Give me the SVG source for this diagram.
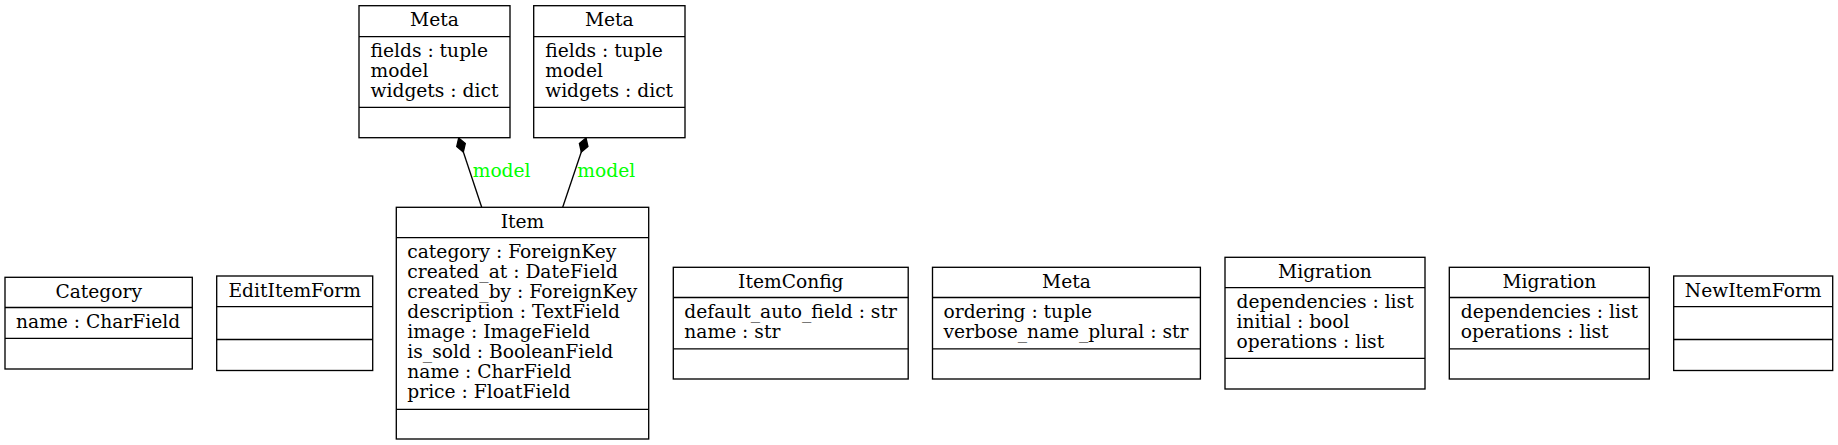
<svg xmlns="http://www.w3.org/2000/svg" width="1838" height="445" viewBox="0 0 1838 445">
<style>
  .box { fill: #ffffff; stroke: #000000; stroke-width: 1.33; }
  .sep { stroke: #000000; stroke-width: 1.33; }
  text { font-family: "DejaVu Serif", "Liberation Serif", serif; font-size: 18.67px; fill: #000000; }
  .hd { text-anchor: middle; }
  .lbl { fill: #00ff00; }
  .edge { fill: none; stroke: #000000; stroke-width: 1.33; marker-start: url(#diamond); }
</style>
<defs>
  <marker id="diamond" markerUnits="userSpaceOnUse" markerWidth="18" markerHeight="12" viewBox="-1 -6 18 12" refX="0" refY="0" orient="auto">
    <path d="M0,0 L7.35,-4.5 L14.7,0 L7.35,4.5 Z" fill="#000000" stroke="#000000" stroke-width="1.33"/>
  </marker>
</defs>
<rect width="1838" height="445" fill="#ffffff"/>

<g id="connectors">
  <path class="edge" d="M458.7,138 L481.7,207.3"/>
  <text class="lbl" x="472.7" y="177.3">model</text>
  <path class="edge" d="M586,138 L562.7,207.3"/>
  <text class="lbl" x="577.3" y="177.3">model</text>
</g>

<g id="meta_form1">
  <rect class="box" x="359" y="5.7" width="151" height="132"/>
  <line class="sep" x1="359" y1="36.7" x2="510" y2="36.7"/>
  <line class="sep" x1="359" y1="107.3" x2="510" y2="107.3"/>
  <text class="hd" x="434.5" y="26.4">Meta</text>
  <text x="370.5" y="57.4">fields : tuple</text>
  <text x="370.5" y="77.4">model</text>
  <text x="370.5" y="97.4">widgets : dict</text>
</g>

<g id="meta_form2">
  <rect class="box" x="533.7" y="5.7" width="151.3" height="132"/>
  <line class="sep" x1="533.7" y1="36.7" x2="685" y2="36.7"/>
  <line class="sep" x1="533.7" y1="107.3" x2="685" y2="107.3"/>
  <text class="hd" x="609.3" y="26.4">Meta</text>
  <text x="545.2" y="57.4">fields : tuple</text>
  <text x="545.2" y="77.4">model</text>
  <text x="545.2" y="97.4">widgets : dict</text>
</g>

<g id="item">
  <rect class="box" x="396.3" y="207.3" width="252.4" height="231.7"/>
  <line class="sep" x1="396.3" y1="237.7" x2="648.7" y2="237.7"/>
  <line class="sep" x1="396.3" y1="409.3" x2="648.7" y2="409.3"/>
  <text class="hd" x="522.5" y="228">Item</text>
  <text x="407.3" y="258.4">category : ForeignKey</text>
  <text x="407.3" y="278.4">created_at : DateField</text>
  <text x="407.3" y="298.4">created_by : ForeignKey</text>
  <text x="407.3" y="318.4">description : TextField</text>
  <text x="407.3" y="338.4">image : ImageField</text>
  <text x="407.3" y="358.4">is_sold : BooleanField</text>
  <text x="407.3" y="378.4">name : CharField</text>
  <text x="407.3" y="398.4">price : FloatField</text>
</g>

<g id="category">
  <rect class="box" x="5" y="277.3" width="187.3" height="91.7"/>
  <line class="sep" x1="5" y1="307.5" x2="192.3" y2="307.5"/>
  <line class="sep" x1="5" y1="338.3" x2="192.3" y2="338.3"/>
  <text class="hd" x="98.7" y="298">Category</text>
  <text x="16" y="328.2">name : CharField</text>
</g>

<g id="edit_item_form">
  <rect class="box" x="216.7" y="276" width="156" height="94.5"/>
  <line class="sep" x1="216.7" y1="306.7" x2="372.7" y2="306.7"/>
  <line class="sep" x1="216.7" y1="339.5" x2="372.7" y2="339.5"/>
  <text class="hd" x="294.7" y="296.7">EditItemForm</text>
</g>

<g id="item_config">
  <rect class="box" x="673.3" y="267.3" width="234.9" height="111.7"/>
  <line class="sep" x1="673.3" y1="297.5" x2="908.2" y2="297.5"/>
  <line class="sep" x1="673.3" y1="348.8" x2="908.2" y2="348.8"/>
  <text class="hd" x="790.8" y="288">ItemConfig</text>
  <text x="684.3" y="318.2">default_auto_field : str</text>
  <text x="684.3" y="338.2">name : str</text>
</g>

<g id="meta_category">
  <rect class="box" x="932.5" y="267.3" width="267.9" height="111.7"/>
  <line class="sep" x1="932.5" y1="297.5" x2="1200.4" y2="297.5"/>
  <line class="sep" x1="932.5" y1="348.8" x2="1200.4" y2="348.8"/>
  <text class="hd" x="1066.5" y="288">Meta</text>
  <text x="943.5" y="318.2">ordering : tuple</text>
  <text x="943.5" y="338.2">verbose_name_plural : str</text>
</g>

<g id="migration1">
  <rect class="box" x="1225" y="257.3" width="200" height="131.7"/>
  <line class="sep" x1="1225" y1="287.7" x2="1425" y2="287.7"/>
  <line class="sep" x1="1225" y1="358.3" x2="1425" y2="358.3"/>
  <text class="hd" x="1325" y="278">Migration</text>
  <text x="1236.5" y="308.4">dependencies : list</text>
  <text x="1236.5" y="328.4">initial : bool</text>
  <text x="1236.5" y="348.4">operations : list</text>
</g>

<g id="migration2">
  <rect class="box" x="1449.3" y="267.3" width="200" height="111.7"/>
  <line class="sep" x1="1449.3" y1="297.5" x2="1649.3" y2="297.5"/>
  <line class="sep" x1="1449.3" y1="348.8" x2="1649.3" y2="348.8"/>
  <text class="hd" x="1549.3" y="288">Migration</text>
  <text x="1460.8" y="318.2">dependencies : list</text>
  <text x="1460.8" y="338.2">operations : list</text>
</g>

<g id="new_item_form">
  <rect class="box" x="1673.7" y="276" width="159" height="94.5"/>
  <line class="sep" x1="1673.7" y1="306.7" x2="1832.7" y2="306.7"/>
  <line class="sep" x1="1673.7" y1="339.5" x2="1832.7" y2="339.5"/>
  <text class="hd" x="1753.2" y="296.7">NewItemForm</text>
</g>
</svg>
